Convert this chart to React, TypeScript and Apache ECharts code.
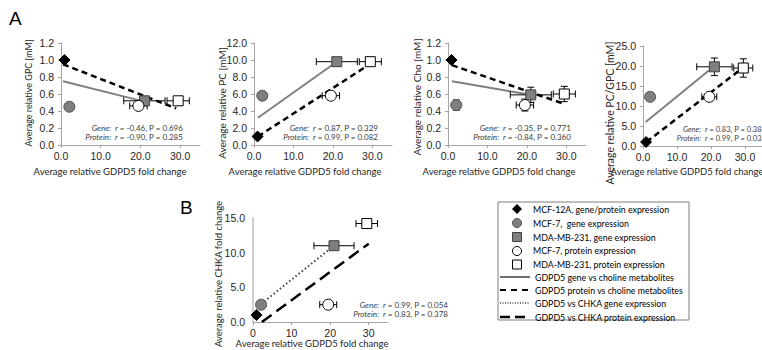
import React, { useEffect, useRef } from "react";
import * as echarts from "echarts";

// ---------- DATA ----------
// Point order: MCF-12A (gene/protein), MCF-7 gene, MDA-MB-231 gene, MCF-7 protein, MDA-MB-231 protein
const pointNames = [
  "MCF-12A, gene/protein expression",
  "MCF-7,  gene expression",
  "MDA-MB-231, gene expression",
  "MCF-7, protein expression",
  "MDA-MB-231, protein expression",
];
const pointX = [0.9, 2.1, 21.0, 19.5, 29.5]; // average relative GDPD5 fold change
const pointXErr = [0, 0, 5.2, 2.2, 2.8];

const gpcY = [1.0, 0.45, 0.52, 0.46, 0.52];
const gpcYErr = [0, 0, 0, 0, 0];
const pcY = [1.0, 5.8, 9.8, 5.8, 9.8];
const pcYErr = [0, 0, 0, 0, 0];
const choY = [1.0, 0.47, 0.59, 0.47, 0.6];
const choYErr = [0.02, 0.06, 0.09, 0.07, 0.09];
const pcGpcY = [1.0, 12.3, 19.8, 12.3, 19.5];
const pcGpcYErr = [0, 0, 2.2, 0, 2.3];
const chkaY = [1.0, 2.5, 11.0, 2.5, 14.2];
const chkaYErr = [0, 0, 0, 0, 0];

// trend lines [x, y] endpoints
const gpcGeneFit = [[0.5, 0.75], [21, 0.51]];
const gpcProteinFit = [[0.5, 0.95], [29, 0.43]];
const pcGeneFit = [[1, 3.2], [21, 9.8]];
const pcProteinFit = [[1, 1], [29, 9.4]];
const choGeneFit = [[1, 0.75], [21, 0.59]];
const choProteinFit = [[1, 0.94], [29.7, 0.48]];
const pcGpcGeneFit = [[0.8, 6], [21, 20]];
const pcGpcProteinFit = [[1, 1], [28.5, 19]];
const chkaGeneFit = [[2.1, 2.6], [21, 11]];
const chkaProteinFit = [[2.3, 0], [30, 11.3]];

const statsGene = ["r = -0.46, P = 0.696", "r = 0.87, P = 0.329", "r = -0.35, P = 0.771", "r = 0.83, P = 0.38", "r = 0.99, P = 0.054"];
const statsProtein = ["r = -0.90, P = 0.285", "r = 0.99, P = 0.082", "r = -0.84, P = 0.360", "r = 0.99, P = 0.03", "r = 0.83, P = 0.378"];

const yTitles = [
  "Average relative GPC [mM]",
  "Average relative PC [mM]",
  "Average relative Cho [mM]",
  "Average relative PC/GPC [mM]",
  "Average relative CHKA fold change",
];
const xTitle = "Average relative GDPD5 fold change";
const yMaxes = [1.2, 12, 1.2, 25, 15];
const yIntervals = [0.2, 2, 0.2, 5, 5];
const legendLines = [
  "GDPD5 gene vs choline metabolites",
  "GDPD5 protein vs choline metabolites",
  "GDPD5 vs CHKA gene expression",
  "GDPD5 vs CHKA protein expression",
];

// ---------- LAYOUT ----------
const panels = [
  { left: 61, top: 43, right: 562, height: 102, yT: [28, 93, 9], xT: [110, 171], labR: 111, valX: 115, fs: 8, rowY: [127.5, 136.5], y: gpcY, yErr: gpcYErr, gene: gpcGeneFit, prot: gpcProteinFit, geneStyle: "solid", protStyle: "dashed", intX: false },
  { left: 254, top: 43, right: 370, height: 102, yT: [222, 103, 10], xT: [305, 171], labR: 309, valX: 313, fs: 8, rowY: [127.5, 136.5], y: pcY, yErr: pcYErr, gene: pcGeneFit, prot: pcProteinFit, geneStyle: "solid", protStyle: "dashed", intX: false },
  { left: 448, top: 43, right: 176, height: 102, yT: [417, 97, 10], xT: [499, 171], labR: 499, valX: 503, fs: 8, rowY: [127.5, 136.5], y: choY, yErr: choYErr, gene: choGeneFit, prot: choProteinFit, geneStyle: "solid", protStyle: "dashed", intX: false },
  { left: 643, top: 46, right: -21, height: 100, yT: [610, 113, 10.5], xT: [687, 171], labR: 701, valX: 705, fs: 7.5, rowY: [129, 138.5], y: pcGpcY, yErr: pcGpcYErr, gene: pcGpcGeneFit, prot: pcGpcProteinFit, geneStyle: "solid", protStyle: "dashed", intX: false },
  { left: 253, top: 218, right: 374, height: 104, yT: [218, 274, 9.5], xT: [312, 343], labR: 379, valX: 383, fs: 8, rowY: [304.5, 314], y: chkaY, yErr: chkaYErr, gene: chkaGeneFit, prot: chkaProteinFit, geneStyle: "dotted", protStyle: "longdash", intX: true },
];

const GREY = "#7f7f7f";
const TICK_FONT = "Liberation Sans";
const TITLE_FONT = "Lato";

const markerStyles = [
  { symbol: "diamond", size: [11, 11], color: "#000", border: "#000" },
  { symbol: "circle", size: 11, color: GREY, border: "#505050" },
  { symbol: "rect", size: 10, color: GREY, border: "#404040" },
  { symbol: "circle", size: 11, color: "#fff", border: "#000" },
  { symbol: "rect", size: 10, color: "#fff", border: "#000" },
];

function lineStyleFor(kind: string) {
  if (kind === "solid") return { color: GREY, width: 2, type: "solid" as any };
  if (kind === "dashed") return { color: "#000", width: 2.5, type: [6, 4] as any };
  if (kind === "dotted") return { color: "#404040", width: 2, type: [1.5, 2.5] as any };
  return { color: "#000", width: 2.5, type: [12, 6] as any };
}

export default function App() {
  const ref = useRef<HTMLDivElement>(null);
  useEffect(() => {
    if (!ref.current) return;
    const chart = echarts.init(ref.current, null, { renderer: "svg" });
    const grids: any[] = [];
    const xAxes: any[] = [];
    const yAxes: any[] = [];
    const series: any[] = [];
    const graphics: any[] = [];

    panels.forEach((p, i) => {
      const isB = i === 4;
      grids.push({ left: p.left, top: p.top, right: p.right, height: p.height, containLabel: false });
      xAxes.push({
        gridIndex: i, type: "value", min: 0, max: 35, interval: 10,
        axisLine: { show: true, lineStyle: { color: "#a6a6a6", width: 1 } },
        axisTick: { show: true, length: 3, lineStyle: { color: "#a6a6a6" } },
        splitLine: { show: false },
        axisLabel: {
          show: true, margin: 5, fontFamily: TICK_FONT, fontSize: 10.5, color: "#262626",
          showMaxLabel: false,
          formatter: (v: number) => (v > 30 ? "" : p.intX ? String(v) : v.toFixed(1)),
        },
      });
      yAxes.push({
        gridIndex: i, type: "value", min: 0, max: yMaxes[i], interval: yIntervals[i],
        axisLine: { show: true, lineStyle: { color: isB ? "#d0d0d0" : "#a6a6a6", width: isB ? 2 : 1 } },
        axisTick: { show: !isB, length: 3, lineStyle: { color: "#a6a6a6" } },
        splitLine: { show: false },
        axisLabel: {
          margin: isB ? 8 : 7, fontFamily: TICK_FONT, fontSize: 10.5, color: "#262626",
          formatter: (v: number) => v.toFixed(1),
        },
      });

      // axis titles
      graphics.push({
        type: "text", x: p.yT[0], y: p.yT[1], rotation: Math.PI / 2,
        style: { text: yTitles[i], fontFamily: TITLE_FONT, fontSize: p.yT[2], fill: "#262626", align: "center", verticalAlign: "middle" },
      });
      graphics.push({
        type: "text", x: p.xT[0], y: p.xT[1],
        style: { text: xTitle, fontFamily: TITLE_FONT, fontSize: 9.5, fill: "#262626", align: "center", verticalAlign: "middle" },
      });

      // trend lines
      series.push({
        type: "line", xAxisIndex: i, yAxisIndex: i, data: p.gene, showSymbol: false, symbol: "none",
        lineStyle: lineStyleFor(p.geneStyle), z: 2, silent: true,
      });
      series.push({
        type: "line", xAxisIndex: i, yAxisIndex: i, data: p.prot, showSymbol: false, symbol: "none",
        lineStyle: lineStyleFor(p.protStyle), z: 2, silent: true,
      });

      // error bars
      const errData = pointX.map((x, k) => [x, p.y[k], pointXErr[k], p.yErr[k]]);
      series.push({
        type: "custom", xAxisIndex: i, yAxisIndex: i, data: errData, z: 3, silent: true,
        renderItem: (params: any, api: any) => {
          const x = api.value(0), y = api.value(1), xe = api.value(2), ye = api.value(3);
          const children: any[] = [];
          const st = { stroke: "#000", lineWidth: 1 };
          const cap = 3.5;
          if (xe > 0) {
            const a = api.coord([x - xe, y]);
            const b = api.coord([x + xe, y]);
            children.push({ type: "line", shape: { x1: a[0], y1: a[1], x2: b[0], y2: b[1] }, style: st });
            children.push({ type: "line", shape: { x1: a[0], y1: a[1] - cap, x2: a[0], y2: a[1] + cap }, style: st });
            children.push({ type: "line", shape: { x1: b[0], y1: b[1] - cap, x2: b[0], y2: b[1] + cap }, style: st });
          }
          if (ye > 0) {
            const a = api.coord([x, y - ye]);
            const b = api.coord([x, y + ye]);
            children.push({ type: "line", shape: { x1: a[0], y1: a[1], x2: b[0], y2: b[1] }, style: st });
            children.push({ type: "line", shape: { x1: a[0] - cap, y1: a[1], x2: a[0] + cap, y2: a[1] }, style: st });
            children.push({ type: "line", shape: { x1: b[0] - cap, y1: b[1], x2: b[0] + cap, y2: b[1] }, style: st });
          }
          return { type: "group", children };
        },
      });

      // markers
      markerStyles.forEach((m, k) => {
        series.push({
          type: "scatter", name: pointNames[k], xAxisIndex: i, yAxisIndex: i,
          data: [[pointX[k], p.y[k]]], symbol: m.symbol, symbolSize: m.size, z: 4,
          itemStyle: { color: m.color, borderColor: m.border, borderWidth: 1, opacity: 1 },
          silent: true,
        });
      });

      // stats text
      const fs = p.fs;
      const statFont = { fontFamily: TITLE_FONT, fontSize: fs, lineHeight: 8, fill: "#404040" };
      ["Gene:", "Protein:"].forEach((lab, r) => {
        graphics.push({ type: "text", x: p.labR, y: p.rowY[r], style: { text: lab, ...statFont, fontStyle: "italic", align: "right", verticalAlign: "middle" } });
      });
      [statsGene[i], statsProtein[i]].forEach((s, r) => {
        graphics.push({
          type: "text", x: p.valX, y: p.rowY[r],
          style: {
            text: "{i|r}" + s.slice(1), ...statFont, align: "left", verticalAlign: "middle",
            rich: { i: { fontStyle: "italic", fontFamily: TITLE_FONT, fontSize: fs, lineHeight: 8, fill: "#404040" } },
          },
        });
      });
    });

    // panel letters
    graphics.push({ type: "text", left: 9, top: 9, style: { text: "A", fontFamily: "Liberation Sans", fontSize: 19, fill: "#000" } });
    graphics.push({ type: "text", left: 180, top: 198, style: { text: "B", fontFamily: "Liberation Sans", fontSize: 19, fill: "#000" } });

    // legend box
    const lx = 498, ly = 202, lw = 191, lh = 118;
    graphics.push({ type: "rect", shape: { x: lx, y: ly, width: lw, height: lh }, style: { fill: "#fff", stroke: "#7f7f7f", lineWidth: 1 }, z: 10 });
    const rowsY = [209, 223, 237, 250, 264, 277, 290, 303, 317];
    const legFont = { fontFamily: TITLE_FONT, fontSize: 8.8, fill: "#000" };
    const mx = 517;
    graphics.push({ type: "polygon", shape: { points: [[mx, rowsY[0] - 5], [mx + 5, rowsY[0]], [mx, rowsY[0] + 5], [mx - 5, rowsY[0]]] }, style: { fill: "#000" }, z: 11 });
    graphics.push({ type: "circle", shape: { cx: mx, cy: rowsY[1], r: 4.5 }, style: { fill: GREY, stroke: "#505050", lineWidth: 1 }, z: 11 });
    graphics.push({ type: "rect", shape: { x: mx - 4.5, y: rowsY[2] - 4.5, width: 9, height: 9 }, style: { fill: GREY, stroke: "#404040", lineWidth: 1 }, z: 11 });
    graphics.push({ type: "circle", shape: { cx: mx, cy: rowsY[3] + 1, r: 4.5 }, style: { fill: "#fff", stroke: "#000", lineWidth: 1 }, z: 11 });
    graphics.push({ type: "rect", shape: { x: mx - 4.5, y: rowsY[4] - 4, width: 9, height: 9 }, style: { fill: "#fff", stroke: "#000", lineWidth: 1 }, z: 11 });
    pointNames.forEach((n, k) => {
      graphics.push({ type: "text", x: 533, y: rowsY[k], style: { text: n, ...legFont, align: "left", verticalAlign: "middle" }, z: 11 });
    });
    const legLineKinds = [
      { color: "#404040", width: 1.5, dash: null as any },
      { color: "#000", width: 2, dash: [6, 5] },
      { color: "#404040", width: 1.5, dash: [1, 1.5] },
      { color: "#000", width: 2.5, dash: [10, 5] },
    ];
    legendLines.forEach((n, k) => {
      const y = rowsY[5 + k];
      const s = legLineKinds[k];
      graphics.push({ type: "line", shape: { x1: 500, y1: y, x2: 530, y2: y }, style: { stroke: s.color, lineWidth: s.width, lineDash: s.dash }, z: 11 });
      graphics.push({ type: "text", x: 535, y, style: { text: n, ...legFont, align: "left", verticalAlign: "middle" }, z: 11 });
    });

    chart.setOption({
      animation: false,
      backgroundColor: "#fff",
      grid: grids,
      xAxis: xAxes,
      yAxis: yAxes,
      series,
      graphic: graphics,
    });
    return () => chart.dispose();
  }, []);
  return <div ref={ref} style={{ position: "absolute", left: 0, top: 0, width: 762, height: 350 }} />;
}
